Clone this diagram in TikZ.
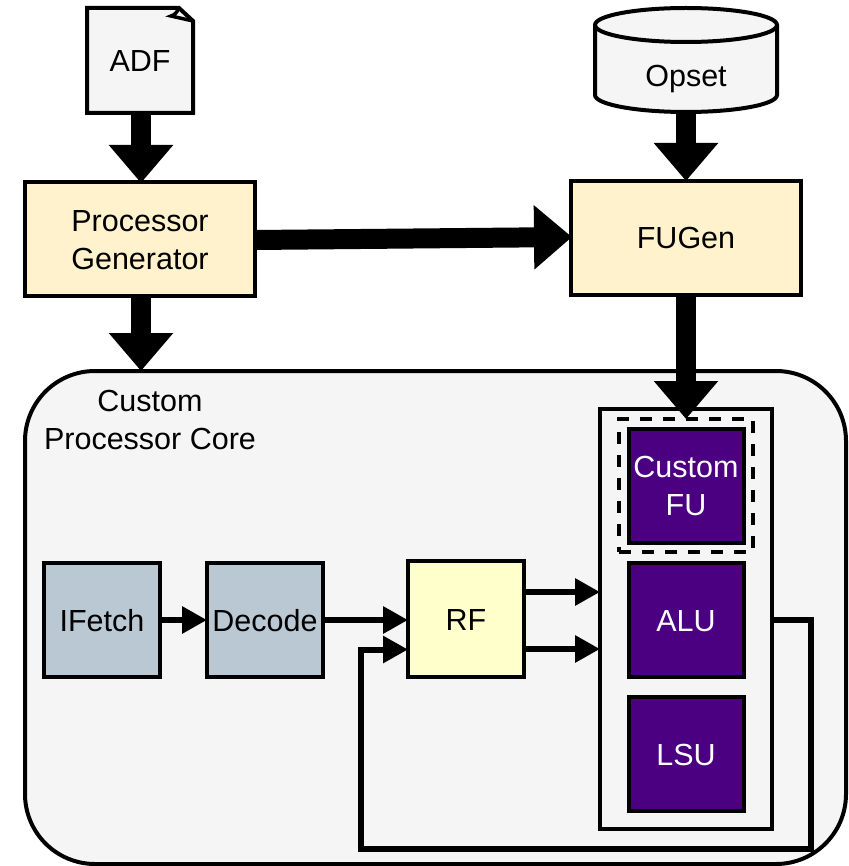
\documentclass[tikz,border=0pt]{standalone}
\usepackage{fontspec}
\setmainfont{Liberation Sans}
\usetikzlibrary{arrows.meta}
\definecolor{panel}{HTML}{F5F5F5}
\definecolor{cream}{HTML}{FFF2CC}
\definecolor{slate}{HTML}{BAC8D3}
\definecolor{lemon}{HTML}{FFFFCC}
\definecolor{indigoFU}{HTML}{4B0082}
\tikzset{
  every node/.style={inner sep=0pt,outer sep=0pt,font=\fontsize{30.5}{38}\selectfont,align=center},
  outline/.style={draw=black,line width=4pt,miter limit=10},
  box/.style={outline,rectangle,minimum width=#1,minimum height=114pt},
  genbox/.style={box=230pt,fill=cream},
  stagebox/.style={box=116pt,fill=slate},
  fubox/.style={box=115pt,fill=indigoFU,text=white},
  oneline/.style={text height=22pt,text depth=0pt},
  bigarrow/.style={line width=20pt,-{Triangle[length=38pt,width=62pt]}},
  smallarrow/.style={line width=6pt,-{Triangle[length=25pt,width=26pt]}},
}
\begin{document}
\begin{tikzpicture}[x=1pt,y=-1pt]
\useasboundingbox (0,0) rectangle (848,866);
% core
\node[outline,fill=panel,rectangle,rounded corners=70pt,minimum width=821pt,minimum height=493pt] (core) at (435.5,617.5) {};
\node (corelabel) at (150,420) {Custom\\Processor Core};
% document
\draw[outline,fill=panel,line join=miter] (87,8) -- (179,8) -- (193,21) -- (193,113) -- (87,113) -- cycle;
\draw[line width=3.5pt,line join=miter] (179,8) .. controls (177,12) and (175,15) .. (171,16) -- (193,21);
\node[oneline,minimum width=106pt,minimum height=105pt] (adf) at (140,60.5) {ADF};
% cylinder
\draw[outline,fill=panel] (595,25) arc[x radius=91,y radius=17,start angle=180,end angle=360] -- (777,95) arc[x radius=91,y radius=17,start angle=0,end angle=180] -- cycle;
\draw[outline] (595,25) arc[x radius=91,y radius=17,start angle=180,end angle=0];
\node[minimum width=182pt,minimum height=104pt] (opset) at (686,60) {};
\node[oneline] (opsetlabel) at (686,76) {Opset};
% generators
\node[genbox] (pg) at (140,239) {\rule{0pt}{24pt}Processor\\Generator};
\node[genbox,oneline] (fugen) at (686,238) {FUGen};
% FU container
\node[outline,fill=panel,rectangle,minimum width=172pt,minimum height=420pt] (fus) at (686,619) {};
\node[draw=black,line width=4pt,dash pattern=on 12pt off 11pt,rectangle,minimum width=134pt,minimum height=133pt] (dash) at (686,485.5) {};
\node[fubox] (custom) at (686,485.5) {Custom\\FU};
\node[fubox,oneline] (alu) at (686,620) {ALU};
\node[fubox,oneline] (lsu) at (686,754) {LSU};
% stages
\node[stagebox,oneline] (ifetch) at (102,620) {IFetch};
\node[stagebox,oneline] (decode) at (265,620) {Decode};
\node[box=116pt,fill=lemon,minimum height=116pt,oneline] (rf) at (466,619) {RF};
% big arrows
\draw[bigarrow] ([xshift=1pt]adf.south) -- ([xshift=1pt,yshift=-1pt]pg.north);
\draw[bigarrow] (opset.south) -- (fugen.north);
\draw[bigarrow] ([yshift=-1pt]pg.east) -- ([xshift=1pt,yshift=1pt]fugen.west);
\draw[bigarrow] ([xshift=1pt]pg.south) -- ([xshift=-294.5pt]core.north);
\draw[bigarrow] (fugen.south) -- (dash.north);
% small arrows
\draw[smallarrow] (ifetch.east) -- (decode.west);
\draw[smallarrow] (decode.east) -- ([yshift=-1pt]rf.west);
\coordinate (rfa) at (524,592);
\coordinate (rfb) at (524,649);
\coordinate (fua) at (600,592);
\coordinate (fub) at (600,649);
\coordinate (fbout) at (772,620);
\coordinate (fbin) at (408,649.5);
\draw[smallarrow] (rfa) -- (fua);
\draw[smallarrow] (rfb) -- (fub);
\draw[smallarrow,line join=miter] (fbout) -- (811,620) -- (811,849) -- (361,849) -- (361,649.5) -- (fbin);
\end{tikzpicture}
\end{document}
